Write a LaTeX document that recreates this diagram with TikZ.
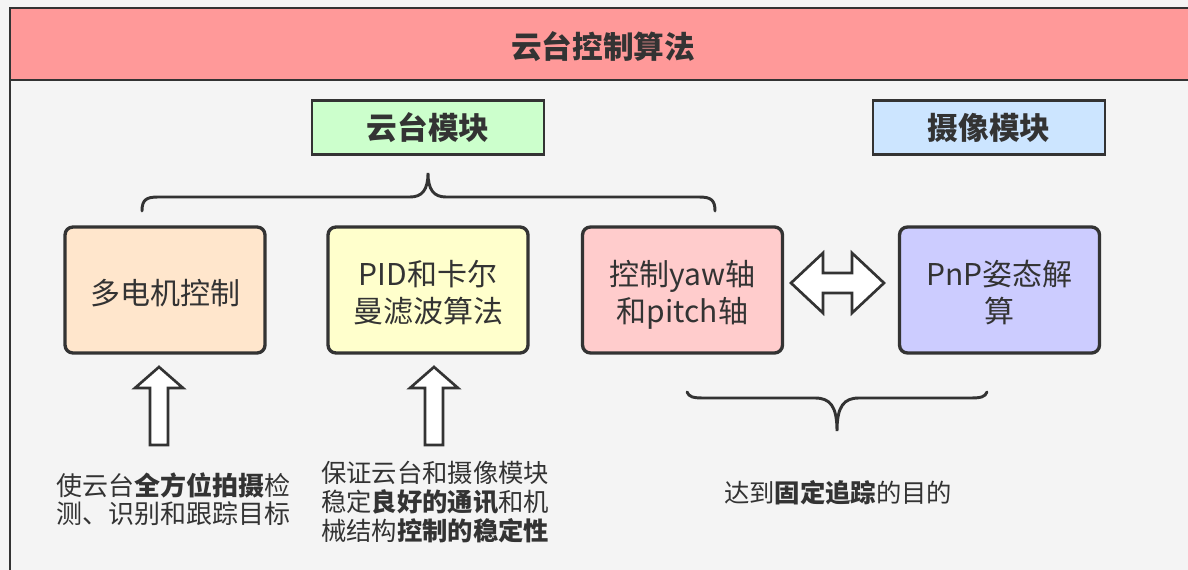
\documentclass[tikz,border=0pt]{standalone}
\usepackage{fontspec}
\setmainfont{Noto Sans CJK SC}
\definecolor{ink}{HTML}{333333}
\definecolor{bg}{HTML}{F4F4F4}
\definecolor{hdrpink}{HTML}{FF9999}
\definecolor{mgreen}{HTML}{CCFFCC}
\definecolor{mblue}{HTML}{CCE5FF}
\definecolor{corange}{HTML}{FFE6CC}
\definecolor{cyellow}{HTML}{FFFFCC}
\definecolor{cpink}{HTML}{FFCCCC}
\definecolor{cviolet}{HTML}{CCCCFF}
\newcommand\boxtext[1]{\raisebox{-5pt}[\height][\depth]{\begin{tabular}{@{}c@{}}#1\end{tabular}}}
\begin{document}
\begin{tikzpicture}[x=0.75pt,y=-0.75pt,
  box/.style={draw=ink, line width=2.5pt, rounded corners=6pt, minimum width=150pt, minimum height=94.5pt,
    text=ink, font=\fontsize{22.5pt}{27.75pt}\selectfont, inner sep=0pt},
  modbox/.style={draw=ink, line width=2.2pt, minimum width=174pt, minimum height=40pt, text=ink,
    font=\fontsize{23pt}{28pt}\selectfont\bfseries, inner sep=0pt},
  blockarrow/.style={draw=ink, fill=white, line width=2pt, line join=miter},
  bracepath/.style={draw=ink, line width=2.2pt, line cap=round},
  note/.style={text=ink, inner sep=0pt}
]
\useasboundingbox (0,0) rectangle (1188,570);
\clip (0,0) rectangle (1188,570);
\fill[bg] (0,0) rectangle (1188,570);
% outer frame and header
\draw[ink, line width=2.2pt] (10,8) rectangle (1200,600);
\draw[ink, fill=hdrpink, line width=2.2pt] (10,8) rectangle (1200,80);
\node[note, font=\fontsize{23pt}{28pt}\selectfont\bfseries] (title) at (603,47) {云台控制算法};

% module labels
\node[modbox, fill=mgreen] (m1) at (428,127.5) {云台模块};
\node[modbox, fill=mblue] (m2) at (989,127.5) {摄像模块};

% main boxes
\node[box, fill=corange] (b1) at (165,290) {\boxtext{多电机控制}};
\node[box, fill=cyellow] (b2) at (428,290) {\boxtext{PID和卡尔\\曼滤波算法}};
\node[box, fill=cpink] (b3) at (682.5,290) {\boxtext{控制yaw轴\\和pitch轴}};
\node[box, fill=cviolet] (b4) at (999.5,290) {\boxtext{PnP姿态解\\算}};

% top brace
\draw[bracepath] (142,211) .. controls (142,200) and (146,197) .. (158,197) -- (410,197)
  .. controls (422,197) and (428,190) .. (428,173)
  .. controls (428,190) and (434,197) .. (446,197) -- (699,197)
  .. controls (711,197) and (715,200) .. (715,211);

% bottom brace
\draw[bracepath] (687,392) .. controls (689,397) and (693,398) .. (704,398) -- (815,398)
  .. controls (830,398) and (837,406) .. (837,431)
  .. controls (837,406) and (844,398) .. (859,398) -- (970,398)
  .. controls (981,398) and (985,397) .. (987,392);

% double arrow between b3 and b4
\draw[blockarrow] (791,283) -- (823,253) -- (823,273) -- (852,273) -- (852,253) -- (884,283)
  -- (852,313) -- (852,293) -- (823,293) -- (823,313) -- cycle;

% up arrows
\draw[blockarrow] (159,367) -- (183,388) -- (168,388) -- (168,445) -- (150,445) -- (150,388) -- (135,388) -- cycle;
\draw[blockarrow] (434,367) -- (458,388) -- (443,388) -- (443,445) -- (425,445) -- (425,388) -- (410,388) -- cycle;

% notes
\node[note, anchor=west, align=left, font=\fontsize{19.5pt}{21pt}\selectfont] (t1) at (56,499)
  {使云台\textbf{全方位拍摄}检\\测、识别和跟踪目标};
\node[note, anchor=west, align=left, font=\fontsize{19pt}{22pt}\selectfont] (t2) at (321,502)
  {保证云台和摄像模块\\稳定\textbf{良好的通讯}和机\\械结构\textbf{控制的稳定性}};
\node[note, font=\fontsize{19pt}{22pt}\selectfont] (t3) at (838,493) {达到\textbf{固定追踪}的目的};
\end{tikzpicture}
\end{document}
